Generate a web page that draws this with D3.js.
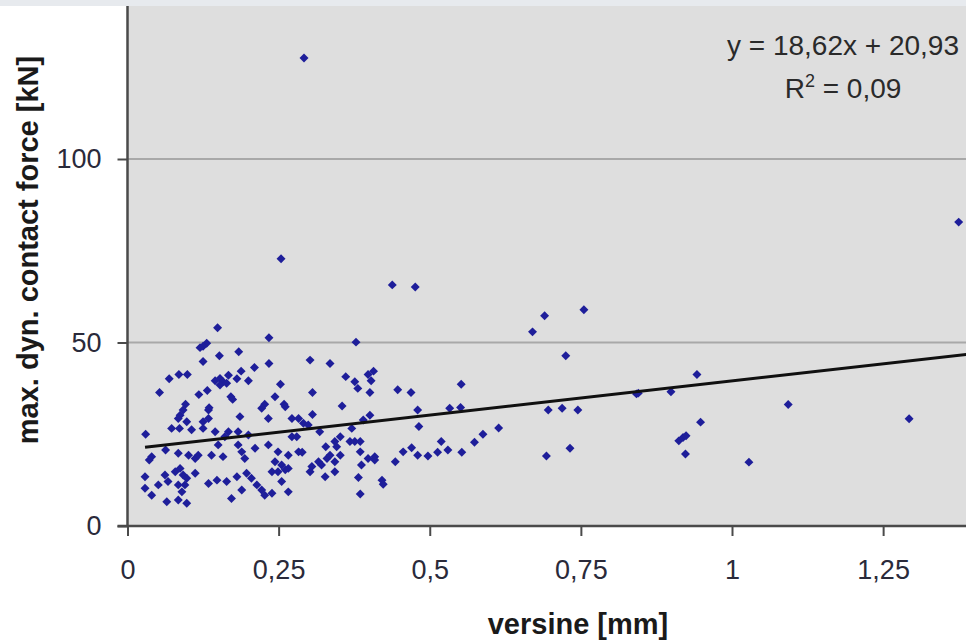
<!DOCTYPE html>
<html>
<head>
<meta charset="utf-8">
<script src="https://cdn.jsdelivr.net/npm/d3@7"></script>
<style>
  html, body { margin: 0; padding: 0; background: #fff; }
  svg { display: block; font-family: "Liberation Sans", Arial, sans-serif; }
</style>
</head>
<body>
<svg width="966" height="643"></svg>
<script>
// versine [mm]
const versine = [
  0.149, 0.234, 0.131, 0.125, 0.120, 0.152, 0.184, 0.125, 0.234, 0.210,
  0.188, 0.069, 0.085, 0.099, 0.145, 0.153, 0.158, 0.167, 0.153, 0.164,
  0.181, 0.200, 0.253, 0.053, 0.118, 0.132, 0.171, 0.174, 0.244, 0.096,
  0.135, 0.227, 0.259, 0.378, 0.302, 0.335, 0.361, 0.376, 0.381, 0.398,
  0.407, 0.403, 0.306, 0.401, 0.447, 0.469, 0.552, 0.355, 0.480, 0.533,
  0.551, 0.254, 0.438, 0.476, 0.292, 0.755, 0.690, 0.670, 0.725, 0.696,
  0.719, 0.745, 0.842, 0.899, 0.942, 0.948, 0.912, 0.919, 0.924, 0.923,
  0.693, 0.732, 0.614, 0.588, 0.574, 0.553, 1.375, 1.093, 1.293, 1.028,
  0.030, 0.040, 0.036, 0.063, 0.073, 0.086, 0.087, 0.092, 0.084, 0.098,
  0.106, 0.125, 0.125, 0.134, 0.134, 0.145, 0.161, 0.167, 0.186, 0.183,
  0.200, 0.222, 0.233, 0.261, 0.272, 0.283, 0.084, 0.101, 0.112, 0.117,
  0.139, 0.150, 0.158, 0.183, 0.189, 0.194, 0.211, 0.233, 0.249, 0.266,
  0.283, 0.244, 0.255, 0.266, 0.029, 0.029, 0.040, 0.051, 0.062, 0.067,
  0.079, 0.087, 0.092, 0.098, 0.084, 0.095, 0.090, 0.065, 0.084, 0.098,
  0.112, 0.134, 0.148, 0.164, 0.172, 0.181, 0.189, 0.197, 0.205, 0.214,
  0.222, 0.227, 0.239, 0.239, 0.249, 0.261, 0.255, 0.266, 0.272, 0.306,
  0.291, 0.299, 0.280, 0.318, 0.371, 0.401, 0.390, 0.482, 0.289, 0.328,
  0.343, 0.352, 0.346, 0.368, 0.376, 0.385, 0.385, 0.305, 0.302, 0.316,
  0.321, 0.330, 0.335, 0.343, 0.352, 0.327, 0.343, 0.387, 0.398, 0.409,
  0.409, 0.443, 0.382, 0.421, 0.423, 0.385, 0.456, 0.470, 0.480, 0.497,
  0.513, 0.519, 0.530, 0.845
];
// max. dyn. contact force [kN]
const force = [
  54.0, 51.3, 49.8, 49.0, 48.6, 46.4, 47.5, 44.8, 44.3, 43.2,
  42.2, 40.1, 41.3, 41.3, 39.6, 40.2, 39.3, 41.1, 38.4, 38.9,
  40.1, 39.6, 38.6, 36.4, 35.8, 36.9, 35.2, 34.5, 35.2, 33.2,
  32.2, 33.2, 33.2, 50.1, 45.2, 44.3, 40.7, 39.3, 37.5, 41.3,
  42.2, 39.6, 36.4, 36.4, 37.1, 36.4, 38.6, 32.7, 31.6, 32.1,
  32.3, 72.8, 65.7, 65.1, 127.5, 58.9, 57.3, 52.9, 46.4, 31.6,
  32.1, 31.6, 36.0, 36.6, 41.3, 28.3, 23.2, 24.1, 24.6, 19.6,
  19.1, 21.2, 26.7, 25.0, 22.8, 20.1, 82.8, 33.1, 29.2, 17.4,
  25.0, 18.9, 18.0, 20.7, 26.6, 26.6, 30.2, 31.6, 29.3, 28.4,
  26.2, 28.4, 26.6, 31.6, 29.3, 25.7, 24.3, 25.7, 29.8, 25.7,
  24.8, 32.1, 29.3, 32.5, 29.3, 29.3, 19.8, 19.3, 18.4, 19.3,
  19.3, 22.1, 18.9, 22.1, 20.2, 18.4, 21.2, 22.1, 20.2, 19.3,
  20.2, 17.5, 16.6, 15.7, 13.4, 10.3, 8.4, 11.2, 13.9, 12.1,
  14.8, 15.7, 13.9, 13.0, 11.2, 11.2, 9.3, 6.6, 7.1, 6.2,
  14.4, 11.6, 12.5, 12.1, 7.5, 13.4, 9.8, 14.4, 13.0, 11.2,
  9.8, 8.4, 8.9, 14.8, 14.8, 15.3, 12.1, 9.3, 24.3, 30.4,
  28.0, 27.5, 24.3, 25.7, 26.6, 30.2, 28.9, 27.1, 20.1, 21.6,
  23.0, 24.3, 21.6, 23.0, 23.0, 23.0, 20.2, 16.2, 14.8, 17.5,
  16.6, 18.4, 19.3, 17.5, 19.3, 13.4, 14.8, 16.6, 18.4, 18.9,
  18.0, 17.5, 13.2, 12.5, 11.4, 8.7, 20.2, 21.3, 19.3, 19.1,
  20.1, 23.0, 20.7, 36.2
];
const xTicks = [0, 0.25, 0.5, 0.75, 1, 1.25];
const yTicks = [0, 50, 100];
const gridValues = [50, 100];
const slope = 18.62;
const intercept = 20.93;

const W = 966, H = 643;
const plotLeft = 127.5, plotTop = 6, plotBottom = 526;
const svg = d3.select('svg');

const x = d3.scaleLinear().domain([0, 1]).range([plotLeft, plotLeft + 604.5]);
const y = d3.scaleLinear().domain([0, 100]).range([plotBottom, plotBottom - 367]);

const fmt = (d) => String(d).replace('.', ',');

// top band + plot background
svg.append('rect').attr('x', 0).attr('y', 0).attr('width', W).attr('height', plotTop)
  .attr('fill', '#e7eaee');
svg.append('rect').attr('x', plotLeft).attr('y', plotTop)
  .attr('width', W - plotLeft).attr('height', plotBottom - plotTop)
  .attr('fill', '#dedede');

// grid lines
svg.append('g').selectAll('line').data(gridValues).enter().append('line')
  .attr('x1', plotLeft).attr('x2', W)
  .attr('y1', (d) => y(d)).attr('y2', (d) => y(d))
  .attr('stroke', '#a8a8a8').attr('stroke-width', 2);

// points
const diamond = d3.symbol().type(d3.symbolSquare).size(40);
svg.append('g').selectAll('path').data(versine).enter().append('path')
  .attr('d', diamond)
  .attr('transform', (d, i) => `translate(${x(d)},${y(force[i])}) rotate(45)`)
  .attr('fill', '#1e1e9a');

// trend line
const xMin = d3.min(versine);
svg.append('line')
  .attr('x1', x(xMin)).attr('y1', y(slope * xMin + intercept))
  .attr('x2', x(1.45)).attr('y2', y(slope * 1.45 + intercept))
  .attr('stroke', '#111').attr('stroke-width', 3);

// axes
const xAxis = d3.axisBottom(x).tickValues(xTicks).tickSize(10).tickPadding(24).tickFormat(fmt);
const yAxis = d3.axisLeft(y).tickValues(yTicks).tickSize(10).tickPadding(16).tickFormat(fmt);

const gx = svg.append('g').attr('transform', `translate(0,${plotBottom})`).call(xAxis);
gx.select('.domain').attr('d', `M${plotLeft - 10},0H${W}`);
const gy = svg.append('g').attr('transform', `translate(${plotLeft},0)`).call(yAxis);
gy.select('.domain').attr('d', `M0,${plotTop}V${plotBottom}`);

[gx, gy].forEach((g) => {
  g.select('.domain').attr('stroke', '#4a4a4a').attr('stroke-width', 2.5);
  g.selectAll('.tick line').attr('stroke', '#4a4a4a').attr('stroke-width', 2);
  g.selectAll('.tick text')
    .attr('font-family', '"Liberation Sans", Arial, sans-serif')
    .attr('font-size', 27).attr('fill', '#2a2a3a');
});

// axis titles
svg.append('text').text('versine [mm]')
  .attr('x', 578).attr('y', 634)
  .attr('text-anchor', 'middle')
  .attr('font-size', 29).attr('font-weight', 'bold').attr('fill', '#1a1a1a');
svg.append('text').text('max. dyn. contact force [kN]')
  .attr('transform', 'translate(38,250) rotate(-90)')
  .attr('text-anchor', 'middle')
  .attr('font-size', 29).attr('font-weight', 'bold').attr('fill', '#1a1a1a');

// regression equation
const eq = svg.append('g').attr('font-size', 28).attr('fill', '#2a2a2a')
  .attr('text-anchor', 'middle');
eq.append('text').attr('x', 843).attr('y', 55).text('y = 18,62x + 20,93');
const r2 = eq.append('text').attr('x', 843).attr('y', 98);
r2.append('tspan').text('R');
r2.append('tspan').attr('font-size', 18).attr('dy', -11).text('2');
r2.append('tspan').attr('dy', 11).text(' = 0,09');
</script>
</body>
</html>
